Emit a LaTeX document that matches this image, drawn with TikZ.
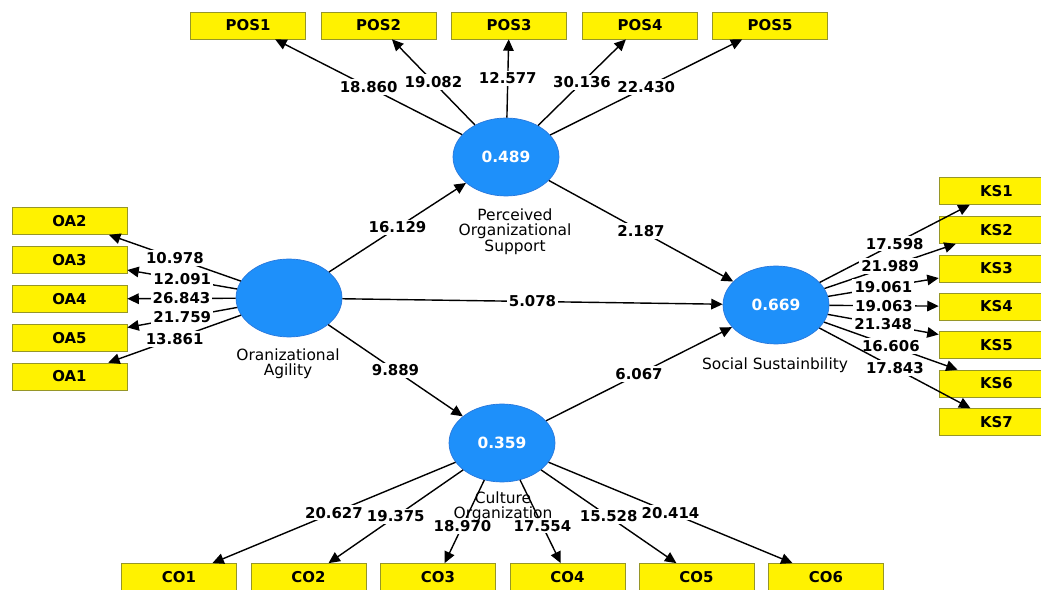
\documentclass[tikz,border=0pt]{standalone}
\usepackage{fontspec}
\setmainfont{DejaVu Sans}
\usetikzlibrary{arrows.meta, shapes.geometric}

\definecolor{boxedge}{RGB}{150,150,40}
\definecolor{circfill}{RGB}{30,144,250}
\definecolor{circedge}{RGB}{40,120,220}

\begin{document}
\begin{tikzpicture}[x=0.02cm, y=-0.02cm,
    item/.style={draw=boxedge, fill=yellow, minimum width=2.3cm, minimum height=0.54cm, inner sep=0pt, font=\bfseries\fontsize{8.5}{10}\selectfont},
    latent/.style={ellipse, draw=circedge, fill=circfill, minimum width=2.12cm, minimum height=1.56cm, inner sep=0pt, text=white, font=\bfseries\fontsize{8.8}{10}\selectfont},
    coef/.style={fill=white, inner sep=1.2pt, font=\bfseries\fontsize{8.5}{10}\selectfont},
    latentname/.style={align=center, fill=white, inner sep=1pt, font=\fontsize{8.8}{8.3}\selectfont},
    link/.style={-{Triangle[length=6.5pt, width=6pt]}, line width=0.8pt}]
    \useasboundingbox (0,0) rectangle (1041,590);
    \clip (0,0) rectangle (1041,590);

    % Latent variables
    \node[latent] (pos) at (506,157) {0.489};
    \node[latent] (oa) at (289,298) {};
    \node[latent] (ks) at (776,305) {0.669};
    \node[latent] (co) at (502,443) {0.359};

    % Indicators
    \node[item] (pos1) at (248,25.5) {POS1};
    \node[item] (pos2) at (378.5,25.5) {POS2};
    \node[item] (pos3) at (509,25.5) {POS3};
    \node[item] (pos4) at (640,25.5) {POS4};
    \node[item] (pos5) at (770,25.5) {POS5};

    \node[item] (oa2) at (69.5,221) {OA2};
    \node[item] (oa3) at (69.5,260) {OA3};
    \node[item] (oa4) at (69.5,299) {OA4};
    \node[item] (oa5) at (69.5,338) {OA5};
    \node[item] (oa1) at (69.5,376.5) {OA1};

    \node[item] (ks1) at (996.5,191) {KS1};
    \node[item] (ks2) at (996.5,230) {KS2};
    \node[item] (ks3) at (996.5,268.5) {KS3};
    \node[item] (ks4) at (996.5,306.5) {KS4};
    \node[item] (ks5) at (996.5,345) {KS5};
    \node[item] (ks6) at (996.5,383.5) {KS6};
    \node[item] (ks7) at (996.5,422) {KS7};

    \node[item] (co1) at (179,577) {CO1};
    \node[item] (co2) at (308.5,577) {CO2};
    \node[item] (co3) at (438,577) {CO3};
    \node[item] (co4) at (567.5,577) {CO4};
    \node[item] (co5) at (696.5,577) {CO5};
    \node[item] (co6) at (826,577) {CO6};

    % Outer loadings
    \draw[link] (pos) -- node[coef] {18.860} (pos1);
    \draw[link] (pos) -- node[coef] {19.082} (pos2);
    \draw[link] (pos) -- node[coef] {12.577} (pos3);
    \draw[link] (pos) -- node[coef] {30.136} (pos4);
    \draw[link] (pos) -- node[coef] {22.430} (pos5);

    \draw[link] (oa) -- node[coef] {10.978} (oa2);
    \draw[link] (oa) -- node[coef] {12.091} (oa3);
    \draw[link] (oa) -- node[coef] {26.843} (oa4);
    \draw[link] (oa) -- node[coef] {21.759} (oa5);
    \draw[link] (oa) -- node[coef] {13.861} (oa1);

    \draw[link] (ks) -- node[coef] {17.598} (ks1);
    \draw[link] (ks) -- node[coef] {21.989} (ks2);
    \draw[link] (ks) -- node[coef] {19.061} (ks3);
    \draw[link] (ks) -- node[coef] {19.063} (ks4);
    \draw[link] (ks) -- node[coef] {21.348} (ks5);
    \draw[link] (ks) -- node[coef] {16.606} (ks6);
    \draw[link] (ks) -- node[coef] {17.843} (ks7);

    \draw[link] (co) -- node[coef] {20.627} (co1);
    \draw[link] (co) -- node[coef] {19.375} (co2);
    \draw[link] (co) -- node[coef, pos=0.55] {18.970} (co3);
    \draw[link] (co) -- node[coef, pos=0.55] {17.554} (co4);
    \draw[link] (co) -- node[coef] {15.528} (co5);
    \draw[link] (co) -- node[coef] {20.414} (co6);

    % Inner paths
    \draw[link] (oa) -- node[coef] {16.129} (pos);
    \draw[link] (pos) -- node[coef] {2.187} (ks);
    \draw[link] (oa) -- node[coef] {5.078} (ks);
    \draw[link] (oa) -- node[coef] {9.889} (co);
    \draw[link] (co) -- node[coef] {6.067} (ks);

    % Construct names
    \node[latentname] (posname) at (515,232) {Perceived\\Organizational\\Support};
    \node[latentname] (oaname) at (288,364) {Oranizational\\Agility};
    \node[latentname] (ksname) at (775,365) {Social Sustainbility};
    \node[latentname, fill=none] (coname) at (503,507) {Culture\\Organization};
\end{tikzpicture}
\end{document}
